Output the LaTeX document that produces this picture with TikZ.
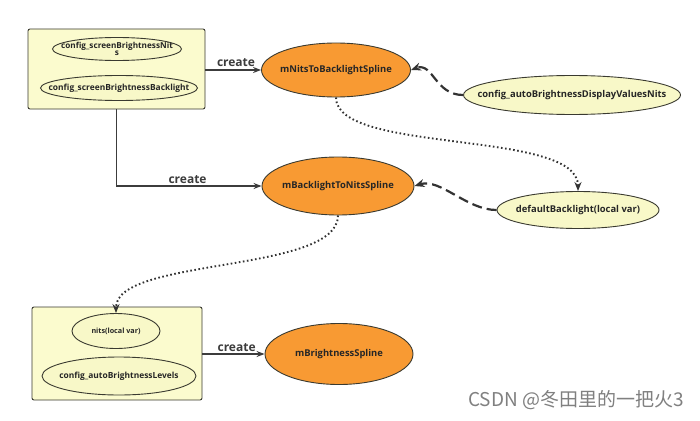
\documentclass[tikz,border=0pt]{standalone}
\usepackage{fontspec}
\setmainfont{Open Sans}
\newfontfamily\cjk{Noto Sans CJK SC}
\usetikzlibrary{arrows.meta,shapes.geometric}
\definecolor{lyel}{HTML}{FBFBCE}
\definecolor{eyel}{HTML}{F8F8C8}
\definecolor{orng}{HTML}{F89A33}
\definecolor{edge}{HTML}{3A3A30}
\definecolor{lbl}{HTML}{3C3C3C}
\tikzset{
  groupbox/.style={draw=edge, line width=0.9pt, fill=lyel, rounded corners=2pt},
  smallell/.style={ellipse, draw=edge, line width=0.9pt, fill=eyel, inner sep=0pt},
  bigell/.style={ellipse, draw=edge, line width=0.9pt, fill=orng, inner sep=0pt},
  sideell/.style={ellipse, draw=edge, line width=0.9pt, fill=eyel, inner sep=0pt},
  smalltxt/.style={font=\bfseries\fontsize{8.4}{9}\selectfont, text=black!85, align=center, inner sep=0pt},
  bigtxt/.style={font=\bfseries\fontsize{9.4}{11}\selectfont, text=black!85, inner sep=0pt},
  createarrow/.style={draw=lbl, line width=1.1pt, -{Stealth[length=8pt,width=6pt]}},
  dasharrow/.style={draw=black!80, line width=2.2pt, dash pattern=on 10pt off 5pt, -{Stealth[length=10pt,width=8pt]}},
  dotarrow/.style={draw=black!80, line width=1.9pt, dash pattern=on 1.6pt off 2.5pt, -{Stealth[length=9pt,width=7pt]}},
  createlbl/.style={font=\bfseries\fontsize{12}{14}\selectfont, text=lbl},
}
\begin{document}
\begin{tikzpicture}[x=1pt,y=-1pt]
\useasboundingbox[fill=white] (0,0) rectangle (700,420);

% top group
\node[groupbox, minimum width=177pt, minimum height=80pt] (topbox) at (116.5,69) {};
\node[smallell, minimum width=129pt, minimum height=23pt] (cfgnits) at (117,49) {};
\node[smalltxt, font=\bfseries\fontsize{8.2}{8.4}\selectfont] (cfgnitst) at (cfgnits) {config\_screenBrightnessNit\\[-1.5pt]s};
\node[smallell, minimum width=157pt, minimum height=25pt] (cfgbl) at (119,88) {};
\node[smalltxt] (cfgblt) at (cfgbl) {config\_screenBrightnessBacklight};

% bottom group
\node[groupbox, minimum width=170pt, minimum height=93pt] (botbox) at (117,353.5) {};
\node[smallell, minimum width=88pt, minimum height=35pt] (nits) at (116,331) {};
\node[smalltxt, font=\bfseries\fontsize{7.2}{8}\selectfont] (nitst) at (nits) {nits(local var)};
\node[smallell, minimum width=154pt, minimum height=38pt] (cfglev) at (119,376) {};
\node[smalltxt] (cfglevt) at (cfglev) {config\_autoBrightnessLevels};

% splines
\node[bigell, minimum width=149pt, minimum height=54pt] (n2b) at (336,70) {};
\node[bigtxt] (n2bt) at (n2b) {mNitsToBacklightSpline};
\node[bigell, minimum width=152pt, minimum height=58pt] (b2n) at (338,186) {};
\node[bigtxt] (b2nt) at (b2n) {mBacklightToNitsSpline};
\node[bigell, minimum width=148pt, minimum height=61pt] (bspl) at (339,354) {};
\node[bigtxt] (bsplt) at (bspl) {mBrightnessSpline};

% side
\node[sideell, minimum width=217pt, minimum height=39pt] (cfgauto) at (572,95) {};
\node[bigtxt] (cfgautot) at (cfgauto) {config\_autoBrightnessDisplayValuesNits};
\node[sideell, minimum width=162pt, minimum height=37pt] (defbl) at (578,210) {};
\node[bigtxt] (defblt) at (defbl) {defaultBacklight(local var)};

% create arrows
\draw[createarrow] (topbox.east |- n2b.west) -- (n2b.west) node[createlbl, pos=0.55, above=-1pt] {create};
\draw[createarrow] (topbox.south) |- (b2n.west) node[createlbl, pos=0.745, above=-1pt] {create};
\draw[createarrow] (botbox.east |- bspl.west) -- (bspl.west) node[createlbl, pos=0.55, above=-1pt] {create};

% dashed
\draw[dasharrow] (cfgauto.west) .. controls +(-28,0) and +(22,-8) .. (n2b.east);
\draw[dasharrow] (defbl.west) .. controls +(-30,0) and +(26,-8) .. (b2n.east);

% dotted
\draw[dotarrow] (n2b.south) .. controls +(0,57) and +(0,-62) .. (defbl.north);
\draw[dotarrow] (b2n.south) .. controls +(0,58) and +(0,-56) .. (nits.north);

% watermark
\node[anchor=east, font=\cjk\fontsize{19}{21}\selectfont, text=black!50, inner sep=0pt] (wm) at (684,400) {CSDN @冬田里的一把火3};
\end{tikzpicture}
\end{document}
